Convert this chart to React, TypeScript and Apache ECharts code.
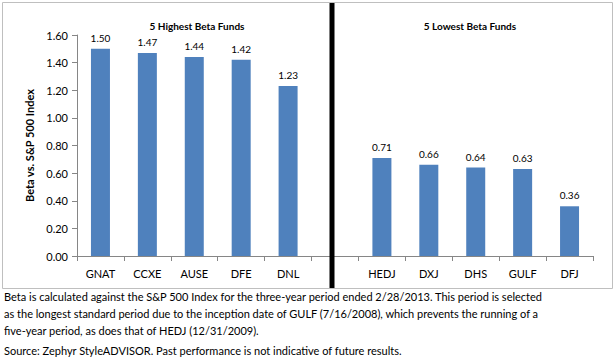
import React, { useEffect, useRef } from "react";
import * as echarts from "echarts";

const categories = ["GNAT", "CCXE", "AUSE", "DFE", "DNL", "", "HEDJ", "DXJ", "DHS", "GULF", "DFJ"];
const betaValues: (number | null)[] = [1.5, 1.47, 1.44, 1.42, 1.23, null, 0.71, 0.66, 0.64, 0.63, 0.36];
const panelTitles = ["5 Highest Beta Funds", "5 Lowest Beta Funds"];
const yAxisName = "Beta vs. S&P 500 Index";
const footerLines = [
  "Beta is calculated against the S&P 500 Index for the three-year period ended 2/28/2013. This period is selected",
  "as the longest standard period due to the inception date of GULF (7/16/2008), which prevents the running of a",
  "five-year period, as does that of HEDJ (12/31/2009).",
  "Source: Zephyr StyleADVISOR. Past performance is not indicative of future results.",
];

const FONT = "Lato, 'Open Sans', sans-serif";

export default function App() {
  const ref = useRef<HTMLDivElement>(null);
  useEffect(() => {
    document.body.style.margin = "0";
    const chart = echarts.init(ref.current!, null, { renderer: "svg" });
    chart.setOption({
      animation: false,
      backgroundColor: "#ffffff",
      textStyle: { fontFamily: FONT },
      title: [
        {
          text: panelTitles[0],
          left: 192,
          top: 16,
          textAlign: "center",
          textStyle: { fontSize: 10, fontWeight: "bold", color: "#000", fontFamily: FONT },
        },
        {
          text: panelTitles[1],
          left: 465,
          top: 16,
          textAlign: "center",
          textStyle: { fontSize: 10, fontWeight: "bold", color: "#000", fontFamily: FONT },
        },
      ],
      grid: { left: 77, right: 23, top: 35, bottom: 104 },
      xAxis: {
        type: "category",
        data: categories,
        boundaryGap: true,
        axisLine: { lineStyle: { color: "#868686" } },
        axisTick: { show: true, interval: 0, lineStyle: { color: "#868686" }, length: 5 },
        axisLabel: { color: "#000", fontSize: 11, margin: 12, fontFamily: FONT, interval: 0 },
      },
      yAxis: {
        type: "value",
        min: 0,
        max: 1.6,
        interval: 0.2,
        name: yAxisName,
        nameLocation: "middle",
        nameGap: 42,
        nameTextStyle: { fontSize: 11, fontWeight: "bold", color: "#000", fontFamily: FONT },
        axisLine: { show: true, lineStyle: { color: "#868686" } },
        axisTick: { show: true, lineStyle: { color: "#868686" }, length: 5 },
        splitLine: { show: false },
        axisLabel: {
          color: "#000",
          fontSize: 11,
          margin: 9,
          fontFamily: FONT,
          formatter: (v: number) => v.toFixed(2),
        },
      },
      series: [
        {
          type: "bar",
          data: betaValues,
          barWidth: 19,
          itemStyle: { color: "#4F81BD" },
          label: {
            show: true,
            position: "top",
            distance: 6,
            color: "#000",
            fontSize: 10,
            fontFamily: FONT,
            formatter: (p: any) => (p.value == null ? "" : Number(p.value).toFixed(2)),
          },
        },
      ],
      graphic: [
        {
          type: "rect",
          shape: { x: 2.5, y: 2.5, width: 610, height: 286 },
          style: { fill: "none", stroke: "#BFBFBF", lineWidth: 1 },
          z: 0,
        },
        {
          type: "rect",
          shape: { x: 329.5, y: 3, width: 5, height: 285 },
          style: { fill: "#000" },
          z: 10,
        },
        ...footerLines.map((t, i) => ({
          type: "text",
          left: 4,
          top: [291, 308, 325, 345][i],
          style: { text: t, fontSize: 11, fill: "#000", fontFamily: FONT },
        })),
      ],
    });
    return () => chart.dispose();
  }, []);
  return <div ref={ref} style={{ width: 616, height: 360 }} />;
}
